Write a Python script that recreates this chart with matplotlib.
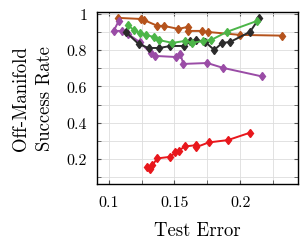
import numpy as np
import matplotlib
matplotlib.use("Agg")
import matplotlib.pyplot as plt
from matplotlib.ticker import MultipleLocator

plt.rcParams['font.family'] = 'serif'
plt.rcParams['font.serif'] = ['cmr10']
plt.rcParams['mathtext.fontset'] = 'cm'
plt.rcParams['axes.formatter.use_mathtext'] = True

# brown series
brown_x = [0.1068, 0.1242, 0.1265, 0.137, 0.1417, 0.153, 0.160, 0.1606, 0.171, 0.1758, 0.200, 0.232]
brown_y = [0.978, 0.972, 0.967, 0.934, 0.934, 0.917, 0.928, 0.906, 0.906, 0.900, 0.884, 0.880]

# purple series
purple_x = [0.1076, 0.1038, 0.1098, 0.1144, 0.1235, 0.1318, 0.1356, 0.1515, 0.1545, 0.1568, 0.175, 0.1871, 0.2167]
purple_y = [0.961, 0.906, 0.906, 0.890, 0.845, 0.785, 0.768, 0.762, 0.779, 0.724, 0.729, 0.702, 0.655]

# black series
black_x = [0.1129, 0.1227, 0.1303, 0.1386, 0.147, 0.1576, 0.1621, 0.1667, 0.1735, 0.1803, 0.1864, 0.1924, 0.2076, 0.2144]
black_y = [0.901, 0.834, 0.812, 0.812, 0.823, 0.823, 0.851, 0.856, 0.845, 0.801, 0.840, 0.845, 0.901, 0.975]

# green series
green_x = [0.1144, 0.1189, 0.1235, 0.128, 0.1341, 0.1379, 0.1485, 0.1583, 0.1636, 0.172, 0.178, 0.190, 0.2129]
green_y = [0.939, 0.912, 0.895, 0.884, 0.873, 0.856, 0.840, 0.851, 0.840, 0.851, 0.856, 0.901, 0.961]

# red series
red_x = [0.1293, 0.1313, 0.1333, 0.1369, 0.147, 0.1508, 0.1533, 0.1578, 0.1667, 0.1667, 0.176, 0.1907, 0.2076]
red_y = [0.156, 0.144, 0.166, 0.203, 0.212, 0.236, 0.245, 0.269, 0.276, 0.265, 0.291, 0.304, 0.345]

fig = plt.figure(figsize=(3.0, 2.51), dpi=100)
ax = fig.add_axes([0.323, 0.263, 0.67, 0.685])

series = [
    (brown_x, brown_y, '#b5531c'),
    (purple_x, purple_y, '#9a4ca6'),
    (black_x, black_y, '#2b2b2b'),
    (green_x, green_y, '#4cb548'),
    (red_x, red_y, '#e8171c'),
]
for xs, ys, c in series:
    ax.plot(xs, ys, color=c, lw=1.4, marker='d', ms=4.5, mec=c, mfc=c)

ax.set_xlim(0.091, 0.244)
ax.set_ylim(0.062, 1.01)
ax.xaxis.set_minor_locator(MultipleLocator(0.025))
ax.yaxis.set_minor_locator(MultipleLocator(0.1))
ax.set_xticks([0.1, 0.15, 0.2])
ax.set_xticklabels(['0.1', '0.15', '0.2'])
ax.set_yticks([0.2, 0.4, 0.6, 0.8, 1.0])
ax.set_yticklabels(['0.2', '0.4', '0.6', '0.8', '1'])
ax.grid(True, which='both', color='#dddddd', lw=0.6)
ax.set_axisbelow(True)
ax.tick_params(which='both', direction='in', top=True, right=True, labelsize=11.5, length=3, color='#555555')
ax.tick_params(axis='x', pad=8)
ax.tick_params(axis='y', pad=7)
for s in ax.spines.values():
    s.set_linewidth(1.0)

ax.set_xlabel('Test Error', fontsize=13.5, labelpad=9)
ax.set_ylabel('Off-Manifold\nSuccess Rate', fontsize=13.5, labelpad=9, linespacing=1.45)

fig.savefig('out.png', dpi=100)
